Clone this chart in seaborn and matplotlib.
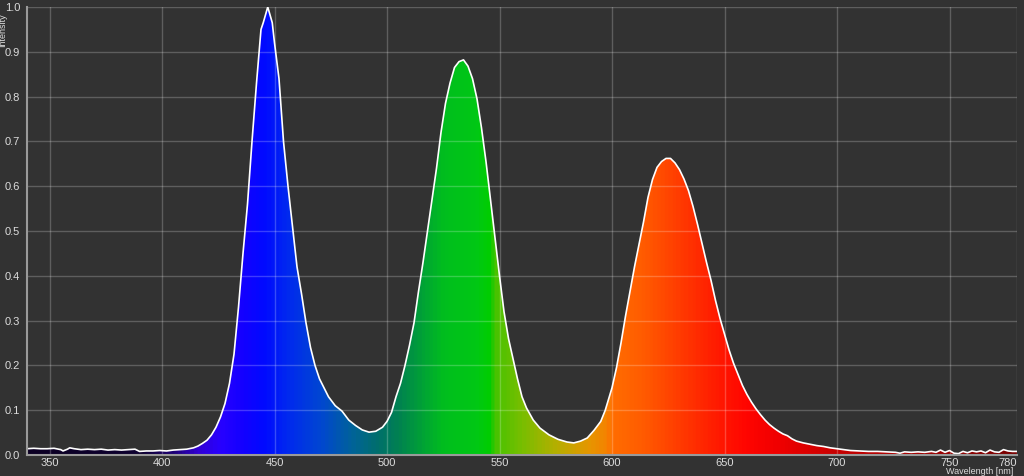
import numpy as np
import pandas as pd
import seaborn as sns
import matplotlib.pyplot as plt
from matplotlib.colors import LinearSegmentedColormap

# Spectrum (wavelength in nm, relative intensity)
wavelength = [
    340, 343, 346, 349, 352, 355, 356, 358, 359, 361, 364, 367, 370, 373, 376,
    379, 382, 385, 388, 390, 393, 396, 399, 402, 405, 408, 411, 414, 416, 418,
    420, 422, 424, 426, 428, 430, 432, 434, 436, 438, 440, 442, 444, 445, 447,
    449, 450, 452, 454, 456, 458, 460, 462, 464, 466, 468, 470, 472, 474, 477,
    480, 483, 486, 489, 492, 495, 498, 500, 502, 504, 506, 508, 510, 512, 514,
    516, 518, 520, 522, 524, 526, 528, 530, 532, 534, 536, 538, 540, 542, 544,
    546, 548, 550, 552, 554, 556, 558, 560, 562, 565, 568, 572, 576, 580, 583,
    586, 589, 592, 595, 597, 600, 602, 604, 606, 608, 610, 612, 614, 616, 618,
    620, 622, 624, 626, 628, 630, 632, 634, 636, 638, 640, 642, 644, 646, 648,
    650, 652, 654, 656, 658, 660, 662, 664, 666, 668, 670, 672, 674, 676, 678,
    680, 682, 685, 688, 691, 694, 697, 700, 703, 706, 710, 714, 718, 722, 726,
    728, 730, 733, 736, 739, 742, 744, 746, 748, 750, 752, 754, 756, 758, 760,
    762, 764, 766, 768, 770, 772, 774, 776, 778, 780,
]
intensity = [
    0.014, 0.015, 0.014, 0.014, 0.015, 0.012, 0.009, 0.013, 0.016, 0.014, 0.012, 0.013, 0.012, 0.013, 0.011,
    0.012, 0.011, 0.012, 0.013, 0.008, 0.009, 0.009, 0.010, 0.009, 0.011, 0.012, 0.013, 0.016, 0.020, 0.026,
    0.033, 0.045, 0.062, 0.085, 0.115, 0.160, 0.225, 0.330, 0.450, 0.560, 0.700, 0.830, 0.950, 0.965, 1.000,
    0.965, 0.920, 0.840, 0.700, 0.600, 0.510, 0.420, 0.360, 0.295, 0.240, 0.200, 0.170, 0.150, 0.130, 0.110,
    0.098, 0.078, 0.066, 0.056, 0.051, 0.053, 0.062, 0.075, 0.095, 0.130, 0.160, 0.200, 0.245, 0.295, 0.365,
    0.430, 0.500, 0.570, 0.640, 0.720, 0.785, 0.830, 0.865, 0.878, 0.882, 0.868, 0.840, 0.795, 0.730, 0.655,
    0.570, 0.485, 0.400, 0.320, 0.260, 0.215, 0.170, 0.130, 0.105, 0.078, 0.060, 0.045, 0.035, 0.029, 0.027,
    0.031, 0.038, 0.055, 0.075, 0.100, 0.150, 0.195, 0.250, 0.310, 0.365, 0.420, 0.470, 0.520, 0.575, 0.615,
    0.642, 0.655, 0.662, 0.662, 0.652, 0.637, 0.616, 0.590, 0.555, 0.515, 0.472, 0.430, 0.390, 0.345, 0.305,
    0.270, 0.235, 0.205, 0.180, 0.155, 0.135, 0.118, 0.103, 0.090, 0.078, 0.068, 0.060, 0.053, 0.047, 0.043,
    0.036, 0.031, 0.027, 0.024, 0.021, 0.019, 0.016, 0.014, 0.012, 0.010, 0.009, 0.008, 0.008, 0.007, 0.006,
    0.004, 0.007, 0.006, 0.007, 0.006, 0.008, 0.006, 0.011, 0.006, 0.010, 0.004, 0.003, 0.008, 0.005, 0.009,
    0.007, 0.009, 0.005, 0.011, 0.007, 0.006, 0.012, 0.009, 0.008, 0.008,
]

x_ticks = [350, 400, 450, 500, 550, 600, 650, 700, 750, 780]
y_ticks = [0.0, 0.1, 0.2, 0.3, 0.4, 0.5, 0.6, 0.7, 0.8, 0.9, 1.0]

# colour of the fill under the curve, by wavelength
color_stops = [
    (340, "#0c0024"), (390, "#0e0030"), (405, "#1e0078"), (415, "#3200d2"),
    (425, "#2800ff"), (435, "#1400ff"), (445, "#000aff"), (455, "#0028f0"),
    (470, "#0046d2"), (485, "#006496"), (495, "#006e6e"), (505, "#008250"),
    (515, "#00a037"), (525, "#00be1e"), (540, "#00c814"), (546, "#00cd00"),
    (548, "#46c300"), (560, "#78be00"), (575, "#b4af00"), (590, "#e69600"),
    (598, "#f58200"), (600, "#ff6e00"), (615, "#ff5a00"), (630, "#ff3c00"),
    (645, "#ff1e00"), (660, "#ff0500"), (675, "#f00000"), (700, "#c80000"),
    (780, "#780000"),
]

df = pd.DataFrame({"wavelength": wavelength, "intensity": intensity})

bg = "#323232"
fg = "#dcdcdc"
sns.set_theme(style="dark", rc={
    "figure.facecolor": bg,
    "axes.facecolor": bg,
    "axes.edgecolor": "#9a9a9a",
    "axes.labelcolor": fg,
    "text.color": fg,
    "xtick.color": fg,
    "ytick.color": fg,
})
plt.rcParams["font.family"] = ["Liberation Sans", "DejaVu Sans"]

fig = plt.figure(figsize=(10.24, 4.76), dpi=100)
ax = fig.add_axes([27 / 1024, 1 - 455 / 476, 990 / 1024, 448 / 476])

lo, hi = wavelength[0], wavelength[-1]
cmap = LinearSegmentedColormap.from_list(
    "spectrum", [((w - lo) / (hi - lo), c) for w, c in color_stops]
)

# area under the curve, used only as a clip path for the gradient
area = ax.fill_between(df.wavelength, df.intensity, 0, color="none", lw=0)
grad = ax.imshow(
    np.linspace(lo, hi, 900)[None, :], cmap=cmap, vmin=lo, vmax=hi,
    extent=[lo, hi, 0, 1], aspect="auto", origin="lower", zorder=1,
    interpolation="bilinear",
)
grad.set_clip_path(area.get_paths()[0], transform=ax.transData)

line_ax = sns.lineplot(data=df, x="wavelength", y="intensity", color="white",
                       linewidth=1.2, ax=ax, zorder=4)
for ln in line_ax.lines:
    ln.set_solid_joinstyle("round")

ax.set_xlim(lo, hi)
ax.set_ylim(0, 1.0)
ax.set_xticks(x_ticks)
ax.set_yticks(y_ticks)
ax.set_yticklabels([f"{v:.1f}" for v in y_ticks])

ax.set_axisbelow(False)
ax.grid(True, color="white", alpha=0.22, linewidth=1.0)
ax.tick_params(axis="y", labelsize=8, length=3, width=1, color="#9a9a9a", pad=2)
ax.tick_params(axis="x", labelsize=8, length=0, pad=2)
ax.get_xticklabels()[-1].set_horizontalalignment("right")

for side in ["top", "right"]:
    ax.spines[side].set_visible(False)
for side in ["left", "bottom"]:
    ax.spines[side].set_linewidth(1.5)
    ax.spines[side].set_zorder(5)

ax.set_xlabel("Wavelength [nm]", fontsize=6.5, loc="right")
ax.xaxis.set_label_coords(0.996, -0.027)
ax.set_ylabel("Intensity", fontsize=6.5)
ax.yaxis.set_label_coords(-0.02, 0.948)

fig.savefig("out.png", dpi=100, facecolor=bg)
